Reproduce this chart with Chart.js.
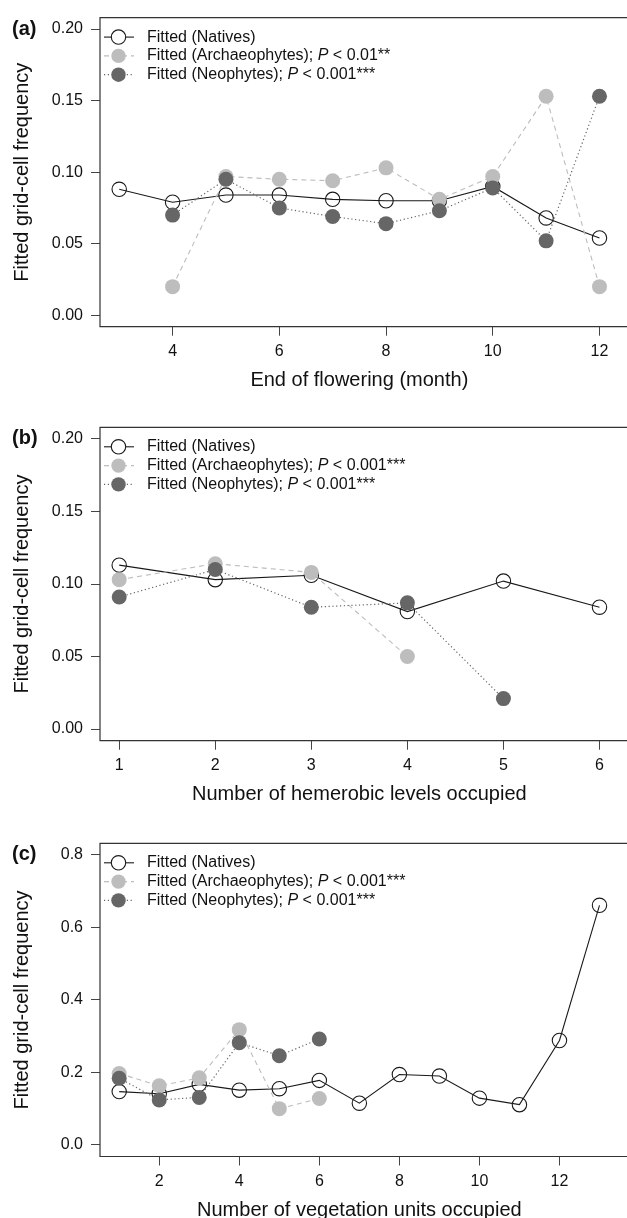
<!DOCTYPE html>
<html>
<head>
<meta charset="utf-8">
<script src="https://cdn.jsdelivr.net/npm/chart.js@4.4.1/dist/chart.umd.min.js"></script>
<style>
  html, body { margin: 0; padding: 0; background: #fff; }
  body { width: 627px; height: 1218px; position: relative; overflow: hidden; }
  canvas { position: absolute; left: 0; }
</style>
</head>
<body>
<canvas id="chartA" width="627" height="400" style="top:0px"></canvas>
<canvas id="chartB" width="627" height="415" style="top:400px"></canvas>
<canvas id="chartC" width="627" height="403" style="top:815px"></canvas>
<script>
// (a) end of flowering
const monthsA = [3, 4, 5, 6, 7, 8, 9, 10, 11, 12];
const nativesA = [0.088, 0.079, 0.084, 0.084, 0.081, 0.080, 0.080, 0.090, 0.068, 0.054];
const archaeoA = [null, 0.020, 0.097, 0.095, 0.094, 0.103, 0.081, 0.097, 0.153, 0.020];
const neoA = [null, 0.070, 0.095, 0.075, 0.069, 0.064, 0.073, 0.089, 0.052, 0.153];
const xTicksA = [4, 6, 8, 10, 12];
const yTicksA = [0, 0.05, 0.10, 0.15, 0.20];

// (b) hemerobic levels
const levelsB = [1, 2, 3, 4, 5, 6];
const nativesB = [0.113, 0.103, 0.106, 0.081, 0.102, 0.084];
const archaeoB = [0.103, 0.114, 0.108, 0.050, null, null];
const neoB = [0.091, 0.110, 0.084, 0.087, 0.021, null];
const xTicksB = [1, 2, 3, 4, 5, 6];
const yTicksB = [0, 0.05, 0.10, 0.15, 0.20];

// (c) vegetation units
const unitsC = [1, 2, 3, 4, 5, 6, 7, 8, 9, 10, 11, 12, 13];
const nativesC = [0.147, 0.141, 0.167, 0.151, 0.155, 0.178, 0.115, 0.194, 0.190, 0.129, 0.111, 0.288, 0.661];
const archaeoC = [0.197, 0.163, 0.185, 0.318, 0.100, 0.128, null, null, null, null, null, null, null];
const neoC = [0.184, 0.124, 0.131, 0.282, 0.246, 0.292, null, null, null, null, null, null, null];
const xTicksC = [2, 4, 6, 8, 10, 12];
const yTicksC = [0, 0.2, 0.4, 0.6, 0.8];

const FONT = '"Liberation Sans", Arial, sans-serif';
const LIGHT = '#bdbdbd';
const DARK = '#666666';
const INK = '#1a1a1a';

const series = [
  { name: 'natives', line: INK, fill: 'rgba(255,255,255,0)', edge: INK, dash: [], width: 1.1 },
  { name: 'archaeo', line: LIGHT, fill: LIGHT, edge: LIGHT, dash: [5, 4], width: 1.1 },
  { name: 'neo', line: DARK, fill: DARK, edge: DARK, dash: [1.2, 2.6], width: 1.2 }
];

function pts(xs, ys) {
  return xs.map((x, i) => ({ x: x, y: ys[i] }));
}

// R style axis range (4% each side)
function rRange(lo, hi) {
  const e = (hi - lo) * 0.04;
  return [lo - e, hi + e];
}

const decorPlugin = {
  id: 'decor',
  beforeDatasetsDraw(chart, args, o) {
    const ctx = chart.ctx, a = chart.chartArea;
    ctx.save();
    ctx.strokeStyle = '#333';
    ctx.lineWidth = 1.2;
    ctx.beginPath();
    ctx.moveTo(chart.width + 2, a.top);
    ctx.lineTo(a.left, a.top);
    ctx.lineTo(a.left, a.bottom);
    ctx.lineTo(chart.width + 2, a.bottom);
    ctx.stroke();
    ctx.restore();
  },
  afterDraw(chart, args, o) {
    const ctx = chart.ctx, a = chart.chartArea;
    ctx.save();
    ctx.fillStyle = '#111';

    // panel letter
    ctx.font = 'bold 20px ' + FONT;
    ctx.textAlign = 'left';
    ctx.textBaseline = 'middle';
    ctx.fillText(o.letter, 12, chart.scales.y.getPixelForValue(o.topTick));

    // x title
    ctx.font = '20px ' + FONT;
    ctx.textAlign = 'center';
    ctx.fillText(o.xTitle, (a.left + a.right) / 2, a.bottom + 54);

    // y title
    ctx.save();
    ctx.translate(22, (a.top + a.bottom) / 2);
    ctx.rotate(-Math.PI / 2);
    ctx.fillText('Fitted grid-cell frequency', 0, 0);
    ctx.restore();

    // legend
    ctx.font = '16px ' + FONT;
    ctx.textAlign = 'left';
    o.legend.forEach((item, i) => {
      const s = series[i];
      const y = a.top + 19.5 + i * 18.8;
      ctx.save();
      ctx.strokeStyle = s.line;
      ctx.lineWidth = s.width;
      ctx.setLineDash(s.dash);
      ctx.beginPath();
      ctx.moveTo(a.left + 4, y);
      ctx.lineTo(a.left + 34, y);
      ctx.stroke();
      ctx.setLineDash([]);
      ctx.beginPath();
      ctx.arc(a.left + 18.5, y, 7.2, 0, Math.PI * 2);
      if (i === 0) {
        ctx.fillStyle = '#fff';
        ctx.fill();
        ctx.strokeStyle = INK;
        ctx.lineWidth = 1.1;
        ctx.stroke();
      } else {
        ctx.fillStyle = s.fill;
        ctx.fill();
      }
      ctx.restore();
      let x = a.left + 47;
      item.forEach(part => {
        ctx.font = (part.it ? 'italic ' : '') + '16px ' + FONT;
        ctx.fillText(part.t, x, y);
        x += ctx.measureText(part.t).width;
      });
    });
    ctx.restore();
  }
};

function makeChart(id, cfg) {
  const [xmin, xmax] = rRange(cfg.xs[0], cfg.xs[cfg.xs.length - 1]);
  const [ymin, ymax] = rRange(cfg.yTicks[0], cfg.yTicks[cfg.yTicks.length - 1]);
  const values = [cfg.natives, cfg.archaeo, cfg.neo];
  const datasets = values.map((v, i) => {
    const s = series[i];
    return {
      label: s.name,
      data: pts(cfg.xs, v),
      borderColor: s.line,
      borderWidth: s.width,
      borderDash: s.dash,
      pointRadius: i === 0 ? 7.2 : 7.5,
      pointBackgroundColor: s.fill,
      pointBorderColor: s.edge,
      pointBorderWidth: i === 0 ? 1.1 : 0,
      fill: false,
      tension: 0,
      spanGaps: false,
      order: 3 - i
    };
  });
  return new Chart(document.getElementById(id), {
    type: 'line',
    data: { datasets: datasets },
    options: {
      responsive: false,
      animation: false,
      events: [],
      layout: { padding: { top: cfg.padTop, right: 0, left: 0, bottom: 0 } },
      plugins: {
        legend: { display: false },
        tooltip: { enabled: false },
        decor: { letter: cfg.letter, xTitle: cfg.xTitle, legend: cfg.legend, topTick: cfg.yTicks[cfg.yTicks.length - 1] }
      },
      scales: {
        x: {
          type: 'linear',
          min: xmin,
          max: xmax,
          afterBuildTicks: s => { s.ticks = cfg.xTicks.map(v => ({ value: v })); },
          afterFit: s => { s.height = cfg.xAxisH; },
          grid: { drawOnChartArea: false, drawTicks: true, tickLength: 9, color: '#444', lineWidth: 1 },
          border: { display: false },
          ticks: { color: '#111', font: { family: FONT, size: 16 }, padding: 6, maxRotation: 0, autoSkip: false,
                   callback: v => String(v) }
        },
        y: {
          type: 'linear',
          min: ymin,
          max: ymax,
          afterBuildTicks: s => { s.ticks = cfg.yTicks.map(v => ({ value: v })); },
          afterFit: s => { s.width = 100; },
          grid: { drawOnChartArea: false, drawTicks: true, tickLength: 9, color: '#444', lineWidth: 1 },
          border: { display: false },
          ticks: { color: '#111', font: { family: FONT, size: 16 }, padding: 8,
                   callback: v => v.toFixed(cfg.digits) }
        }
      }
    },
    plugins: [decorPlugin]
  });
}

const legendFor = p1 => [
  [{ t: 'Fitted (Natives)' }],
  [{ t: 'Fitted (Archaeophytes); ' }, { t: 'P', it: true }, { t: ' < ' + p1 }],
  [{ t: 'Fitted (Neophytes); ' }, { t: 'P', it: true }, { t: ' < 0.001***' }]
];

makeChart('chartA', {
  xs: monthsA, natives: nativesA, archaeo: archaeoA, neo: neoA,
  xTicks: xTicksA, yTicks: yTicksA, digits: 2,
  padTop: 14, xAxisH: 73.3,
  letter: '(a)', xTitle: 'End of flowering (month)', legend: legendFor('0.01**')
});
makeChart('chartB', {
  xs: levelsB, natives: nativesB, archaeo: archaeoB, neo: neoB,
  xTicks: xTicksB, yTicks: yTicksB, digits: 2,
  padTop: 27.3, xAxisH: 74.3,
  letter: '(b)', xTitle: 'Number of hemerobic levels occupied', legend: legendFor('0.001***')
});
makeChart('chartC', {
  xs: unitsC, natives: nativesC, archaeo: archaeoC, neo: neoC,
  xTicks: xTicksC, yTicks: yTicksC, digits: 1,
  padTop: 28.3, xAxisH: 61.5,
  letter: '(c)', xTitle: 'Number of vegetation units occupied', legend: legendFor('0.001***')
});
</script>
</body>
</html>
